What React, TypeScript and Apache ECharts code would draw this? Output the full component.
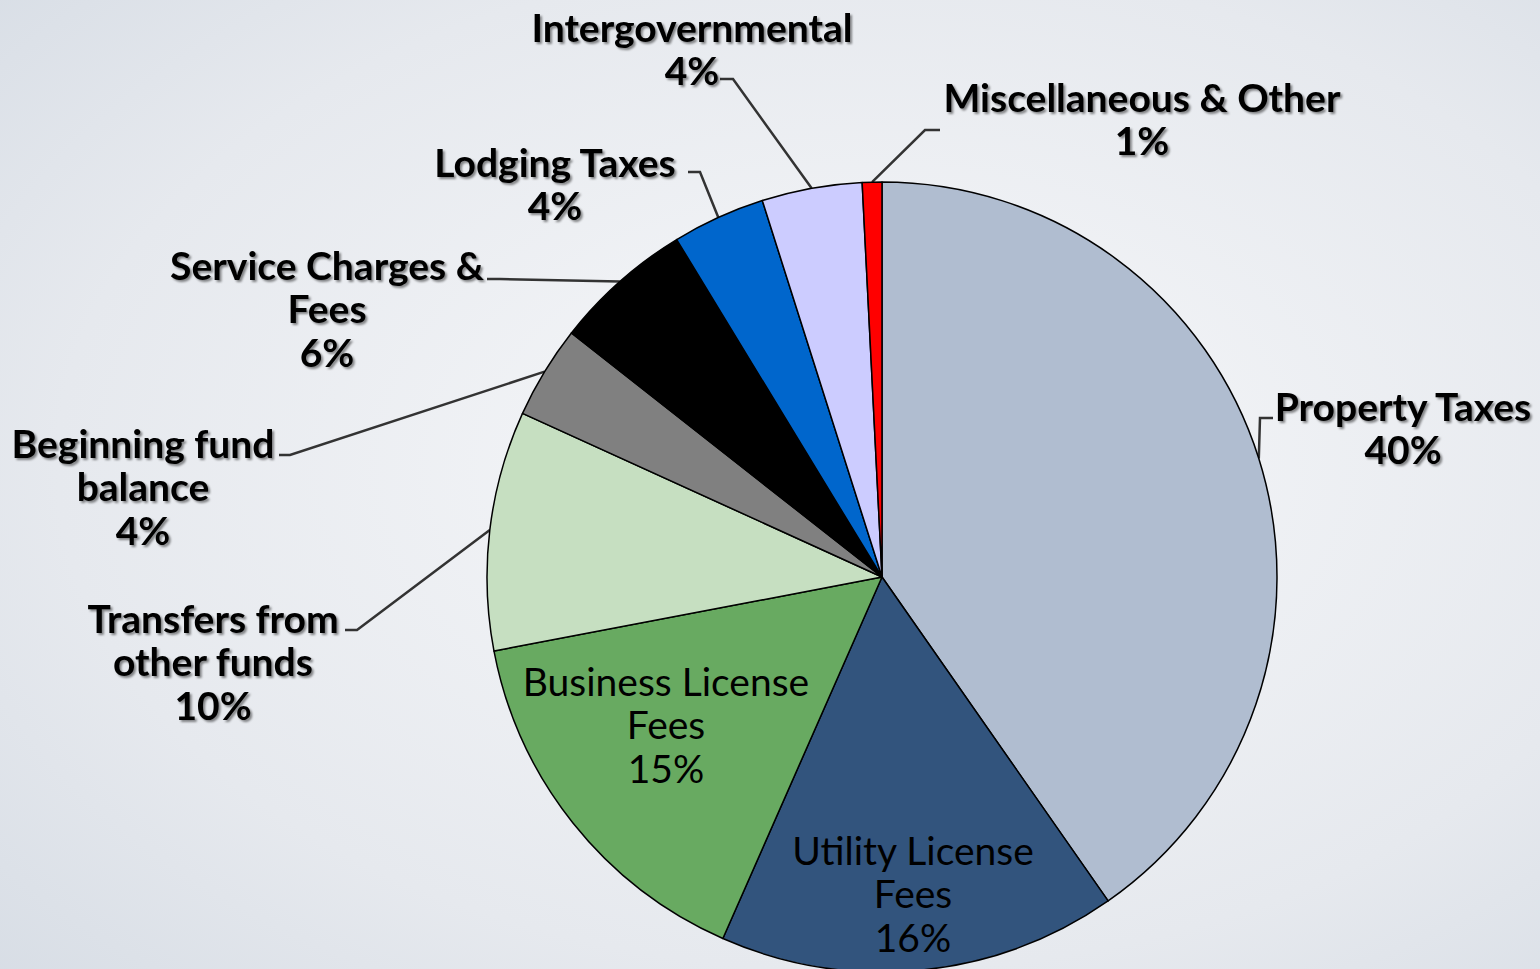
import React, { useEffect, useRef } from 'react';
import * as echarts from 'echarts';

// Slices, clockwise from 12 o'clock
const categories = [
  'Property Taxes',
  'Utility License\nFees',
  'Business License\nFees',
  'Transfers from\nother funds',
  'Beginning fund\nbalance',
  'Service Charges &\nFees',
  'Lodging Taxes',
  'Intergovernmental',
  'Miscellaneous & Other',
];
const values = [40.3, 16.3, 15.4, 9.8, 3.8, 5.7, 3.8, 4.1, 0.8];
const colors = ['#b0bdd0', '#32547d', '#68aa61', '#c6dfc1', '#808080', '#000000', '#0066cc', '#ccccff', '#ff0000'];
const insideLabel = [false, true, true, false, false, false, false, false, false];

// Label layout: [centerX, topY]
const labelPos = [
  [1403, 384], [913, 828], [666, 659], [213, 596], [143, 421],
  [327, 243], [555, 140], [692, 5], [1142, 75],
];
// Guide lines: [bendX, bendY, endX, endY]
const guidePos: (number[] | null)[] = [
  [1260, 418, 1273, 418], null, null, [357, 630, 345, 630], [290, 455, 279, 455],
  [500, 279, 487, 279], [700, 172, 688, 172], [733, 79, 720, 79], [925, 130, 940, 130],
];

export default function App() {
  const ref = useRef<HTMLDivElement>(null);
  useEffect(() => {
    document.body.style.margin = '0';
    const chart = echarts.init(ref.current!, null, { renderer: 'svg' });
    const cx = 882, cy = 577, r = 395;
    const total = values.reduce((a, b) => a + b, 0);
    const data = categories.map((name, i) => ({
      name,
      value: values[i],
      itemStyle: { color: colors[i] },
      label: insideLabel[i]
        ? { fontWeight: 'normal', textShadowColor: 'transparent', textShadowBlur: 0, textShadowOffsetX: 0, textShadowOffsetY: 0 }
        : {},
      labelLine: { show: !insideLabel[i] },
    }));
    chart.setOption({
      animation: false,
      backgroundColor: {
        type: 'radial', x: 0.56, y: 0.48, r: 0.95,
        colorStops: [
          { offset: 0, color: '#f7f8fa' },
          { offset: 0.55, color: '#e6e9ee' },
          { offset: 1, color: '#cdd5df' },
        ],
      },
      series: [{
        type: 'pie',
        center: [cx, cy],
        radius: r,
        startAngle: 90,
        clockwise: true,
        avoidLabelOverlap: false,
        data,
        itemStyle: { borderColor: '#000', borderWidth: 1.5 },
        label: {
          show: true,
          position: 'outside',
          overflow: 'none',
          color: '#000',
          fontFamily: 'Lato',
          fontWeight: 'bold',
          fontSize: 39,
          lineHeight: 43.5,
          textShadowColor: 'rgba(0,0,0,0.45)',
          textShadowBlur: 2,
          textShadowOffsetX: 2,
          textShadowOffsetY: 2,
          formatter: (p: any) => `${p.name}\n${Math.round(p.percent)}%`,
        },
        labelLine: { show: true, lineStyle: { color: '#333', width: 2.5 } },
        labelLayout: (params: any) => {
          const i = params.dataIndex;
          const [lx, ly] = labelPos[i];
          const out: any = { x: lx, y: ly, align: 'center', verticalAlign: 'top', width: 600 };
          const g = guidePos[i];
          if (g) {
            let p0 = params.labelLinePoints && params.labelLinePoints[0];
            if (!p0) {
              let acc = 0;
              for (let k = 0; k < i; k++) acc += values[k];
              const a = ((acc + values[i] / 2) / total) * Math.PI * 2;
              p0 = [cx + r * Math.sin(a), cy - r * Math.cos(a)];
            }
            out.labelLinePoints = [p0, [g[0], g[1]], [g[2], g[3]]];
          }
          return out;
        },
      }],
    });
    return () => chart.dispose();
  }, []);
  return <div ref={ref} style={{ width: 1540, height: 969 }} />;
}
